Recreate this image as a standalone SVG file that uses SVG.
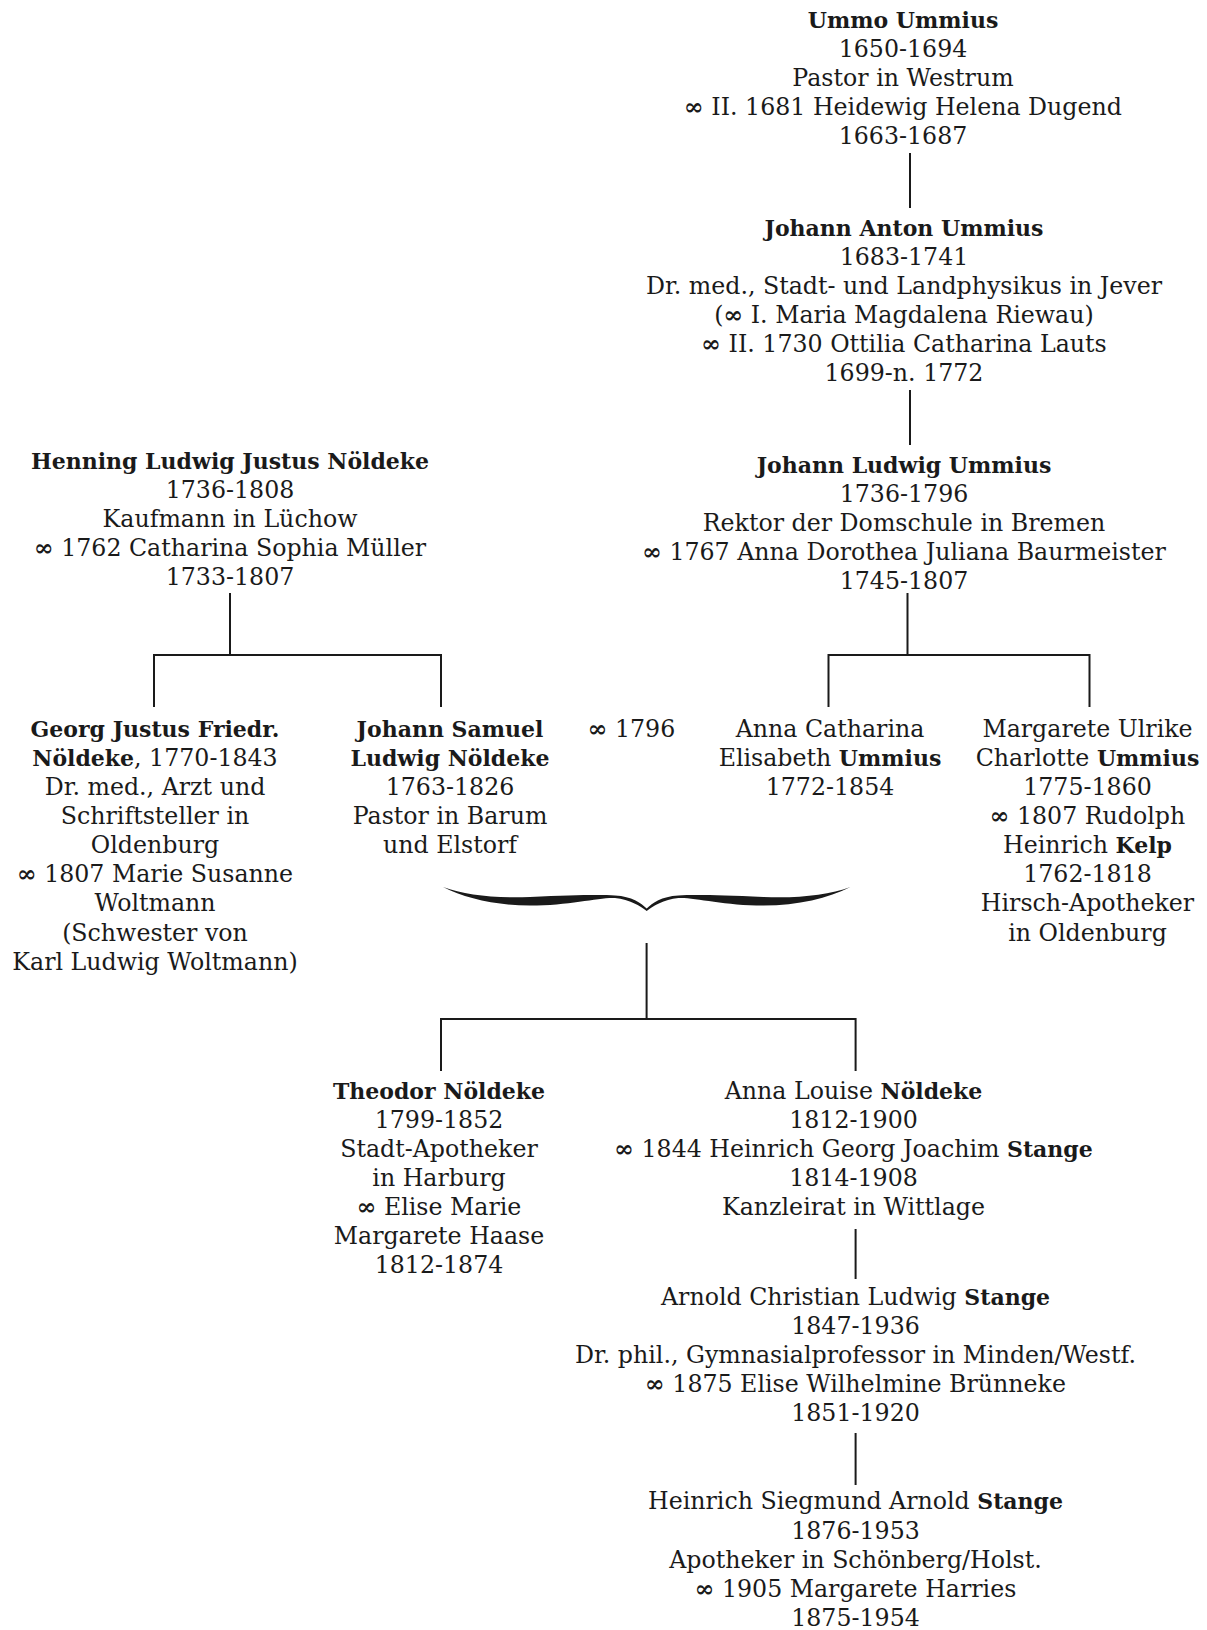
<svg xmlns="http://www.w3.org/2000/svg" width="1207" height="1630" viewBox="0 0 1207 1630">
<style>
text{font-family:"DejaVu Serif","Liberation Serif",serif;font-size:23.7px;fill:#1a1a1a;text-anchor:middle}
.b{font-weight:bold;font-size:22px}
.m{font-weight:bold}
.c{stroke:#1a1a1a;stroke-width:2;fill:none}
</style>
<rect width="1207" height="1630" fill="#fff"/>
<g id="connectors">
<path class="c" d="M910,153V208"/>
<path class="c" d="M910,390V445"/>
<path class="c" d="M907.5,593V655M828.5,707V655H1089.5V707"/>
<path class="c" d="M230,593V655M154,707V655H441V707"/>
<path class="c" d="M646.6,943V1019M441,1071V1019H855.6V1071"/>
<path class="c" d="M855.6,1229V1279"/>
<path class="c" d="M855.6,1433V1485"/>
<path id="brace" fill="#1a1a1a" d="M443,887 C465,898 495,905.5 530,905.5 C570,905.5 600,897 615,898 C630,899.5 640,906 646.7,911 C653.4,906 663.4,899.5 678.4,898 C693.4,897 723.4,905.5 763.4,905.5 C798.4,905.5 828.4,898 850.4,887 C828.4,895 798.4,898.5 763.4,897 C718.4,895 693.4,894.5 678.4,895.5 C661.4,896.5 652.4,903 646.7,908.5 C641,903 632,896.5 615,895.5 C600,894.5 575,895 530,897 C495,898.5 465,895 443,887 Z"/>
</g>
<g id="ummo">
<text x="903" y="28" class="b">Ummo Ummius</text>
<text x="903" y="57">1650-1694</text>
<text x="903" y="86">Pastor in Westrum</text>
<text x="903" y="115"><tspan class="m">∞</tspan> II. 1681 Heidewig Helena Dugend</text>
<text x="903" y="144">1663-1687</text>
</g>
<g id="johann-anton">
<text x="904" y="235.5" class="b">Johann Anton Ummius</text>
<text x="904" y="264.5">1683-1741</text>
<text x="904" y="293.5">Dr. med., Stadt- und Landphysikus in Jever</text>
<text x="904" y="322.5">(<tspan class="m">∞</tspan> I. Maria Magdalena Riewau)</text>
<text x="904" y="352"><tspan class="m">∞</tspan> II. 1730 Ottilia Catharina Lauts</text>
<text x="904" y="381">1699-n. 1772</text>
</g>
<g id="johann-ludwig">
<text x="904" y="472.5" class="b">Johann Ludwig Ummius</text>
<text x="904" y="501.5">1736-1796</text>
<text x="904" y="531">Rektor der Domschule in Bremen</text>
<text x="904" y="560"><tspan class="m">∞</tspan> 1767 Anna Dorothea Juliana Baurmeister</text>
<text x="904" y="589">1745-1807</text>
</g>
<g id="henning">
<text x="230" y="468.5" class="b">Henning Ludwig Justus Nöldeke</text>
<text x="230" y="497.5">1736-1808</text>
<text x="230" y="527">Kaufmann in Lüchow</text>
<text x="230" y="556"><tspan class="m">∞</tspan> 1762 Catharina Sophia Müller</text>
<text x="230" y="585">1733-1807</text>
</g>
<g id="georg">
<text x="155" y="737" class="b">Georg Justus Friedr.</text>
<text x="155" y="766"><tspan class="b">Nöldeke</tspan>, 1770-1843</text>
<text x="155" y="795">Dr. med., Arzt und</text>
<text x="155" y="824">Schriftsteller in</text>
<text x="155" y="853">Oldenburg</text>
<text x="155" y="882"><tspan class="m">∞</tspan> 1807 Marie Susanne</text>
<text x="155" y="911">Woltmann</text>
<text x="155" y="940.5">(Schwester von</text>
<text x="155" y="969.5">Karl Ludwig Woltmann)</text>
</g>
<g id="johann-samuel">
<text x="450" y="737" class="b">Johann Samuel</text>
<text x="450" y="766" class="b">Ludwig Nöldeke</text>
<text x="450" y="795">1763-1826</text>
<text x="450" y="824">Pastor in Barum</text>
<text x="450" y="853">und Elstorf</text>
</g>
<g id="marriage-1796">
<text x="631.5" y="737"><tspan class="m">∞</tspan> 1796</text>
</g>
<g id="anna-catharina">
<text x="830" y="737">Anna Catharina</text>
<text x="830" y="766">Elisabeth <tspan class="b">Ummius</tspan></text>
<text x="830" y="795">1772-1854</text>
</g>
<g id="margarete">
<text x="1087.5" y="737">Margarete Ulrike</text>
<text x="1087.5" y="766">Charlotte <tspan class="b">Ummius</tspan></text>
<text x="1087.5" y="795">1775-1860</text>
<text x="1087.5" y="824"><tspan class="m">∞</tspan> 1807 Rudolph</text>
<text x="1087.5" y="853">Heinrich <tspan class="b">Kelp</tspan></text>
<text x="1087.5" y="882">1762-1818</text>
<text x="1087.5" y="911">Hirsch-Apotheker</text>
<text x="1087.5" y="940.5">in Oldenburg</text>
</g>
<g id="theodor">
<text x="439" y="1098.5" class="b">Theodor Nöldeke</text>
<text x="439" y="1127.5">1799-1852</text>
<text x="439" y="1157">Stadt-Apotheker</text>
<text x="439" y="1186">in Harburg</text>
<text x="439" y="1215"><tspan class="m">∞</tspan> Elise Marie</text>
<text x="439" y="1244">Margarete Haase</text>
<text x="439" y="1273">1812-1874</text>
</g>
<g id="anna-louise">
<text x="853.5" y="1098.5">Anna Louise <tspan class="b">Nöldeke</tspan></text>
<text x="853.5" y="1127.5">1812-1900</text>
<text x="853.5" y="1157"><tspan class="m">∞</tspan> 1844 Heinrich Georg Joachim <tspan class="b">Stange</tspan></text>
<text x="853.5" y="1186">1814-1908</text>
<text x="853.5" y="1215">Kanzleirat in Wittlage</text>
</g>
<g id="arnold">
<text x="855.5" y="1304.5">Arnold Christian Ludwig <tspan class="b">Stange</tspan></text>
<text x="855.5" y="1333.5">1847-1936</text>
<text x="855.5" y="1362.5">Dr. phil., Gymnasialprofessor in Minden/Westf.</text>
<text x="855.5" y="1392"><tspan class="m">∞</tspan> 1875 Elise Wilhelmine Brünneke</text>
<text x="855.5" y="1421">1851-1920</text>
</g>
<g id="heinrich-siegmund">
<text x="855.5" y="1509">Heinrich Siegmund Arnold <tspan class="b">Stange</tspan></text>
<text x="855.5" y="1538.5">1876-1953</text>
<text x="855.5" y="1567.5">Apotheker in Schönberg/Holst.</text>
<text x="855.5" y="1596.5"><tspan class="m">∞</tspan> 1905 Margarete Harries</text>
<text x="855.5" y="1625.5">1875-1954</text>
</g>
</svg>
